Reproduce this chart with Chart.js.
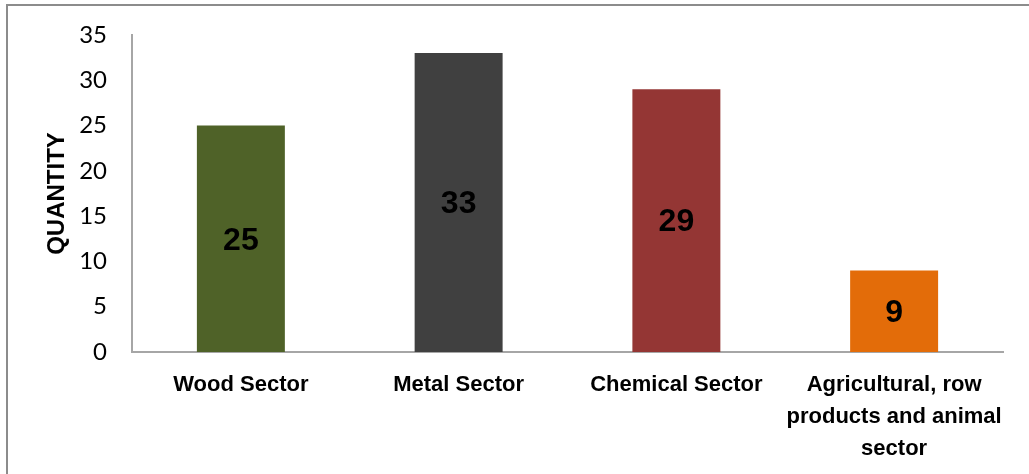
<!DOCTYPE html>
<html>
<head>
<meta charset="utf-8">
<script src="https://cdn.jsdelivr.net/npm/chart.js@4.4.0/dist/chart.umd.min.js"></script>
<style>
  html, body { margin: 0; padding: 0; background: #fff; overflow: hidden; }
  canvas { display: block; }
</style>
</head>
<body>
<canvas id="sector-chart" width="1029" height="474"></canvas>
<script>
// dados do gráfico
const categorias = [
    "Wood Sector",
    "Metal Sector",
    "Chemical Sector",
    ["Agricultural, row", "products and animal", "sector"]
];
const quantidades = [25, 33, 29, 9];
const coresBarras = ["#4f6228", "#404040", "#943634", "#e36c09"];
const ticksY = [0, 5, 10, 15, 20, 25, 30, 35];

const fonteNarrow = "'Liberation Sans Narrow', 'Arial Narrow', 'Liberation Sans', Arial, sans-serif";
const fonteTicks = "Lato, 'Open Sans', sans-serif";

// moldura cinza em volta do gráfico (sai pela direita e por baixo)
const molduraPlugin = {
    id: "moldura",
    beforeDraw(chart) {
        const c = chart.ctx;
        c.save();
        c.fillStyle = "#fff";
        c.fillRect(0, 0, chart.width, chart.height);
        c.strokeStyle = "#8c8c8c";
        c.lineWidth = 2;
        c.strokeRect(7, 5, chart.width + 20, chart.height + 20);
        c.restore();
    }
};

// valores no meio das barras
const valoresPlugin = {
    id: "valores",
    afterDatasetsDraw(chart) {
        const c = chart.ctx;
        const meta = chart.getDatasetMeta(0);
        c.save();
        c.font = `bold 32px ${fonteNarrow}`;
        c.fillStyle = "#000";
        c.textAlign = "center";
        c.textBaseline = "middle";
        meta.data.forEach((bar, i) => {
            const meio = (bar.y + bar.base) / 2;
            c.fillText(String(quantidades[i]), bar.x, meio + 2);
        });
        c.restore();
    }
};

const ctx = document.getElementById("sector-chart").getContext("2d");

new Chart(ctx, {
    type: "bar",
    data: {
        labels: categorias,
        datasets: [{
            data: quantidades,
            backgroundColor: coresBarras,
            barPercentage: 0.404,
            categoryPercentage: 1
        }]
    },
    options: {
        responsive: false,
        animation: false,
        devicePixelRatio: 1,
        layout: { padding: { top: 35, right: 26, left: 0, bottom: 0 } },
        plugins: {
            legend: { display: false },
            tooltip: { enabled: false }
        },
        scales: {
            x: {
                grid: { display: false, drawTicks: false },
                border: { color: "#a6a6a6", width: 2 },
                ticks: {
                    color: "#000",
                    padding: 17,
                    maxRotation: 0,
                    autoSkip: false,
                    font: { family: fonteNarrow, size: 22, weight: "bold", lineHeight: 1.45 }
                },
                afterFit: s => {
                    s.height = 122;
                    s.paddingLeft = 0;
                    s.paddingRight = 0;
                }
            },
            y: {
                min: 0,
                max: 35,
                afterBuildTicks: s => { s.ticks = ticksY.map(v => ({ value: v })); },
                grid: { display: false, drawTicks: false },
                border: { color: "#a6a6a6", width: 2 },
                ticks: {
                    color: "#000",
                    padding: 25,
                    font: { family: fonteTicks, size: 24 }
                },
                title: {
                    display: true,
                    text: "QUANTITY",
                    color: "#000",
                    padding: { top: 43, bottom: 0 },
                    font: { family: fonteNarrow, size: 24, weight: "bold", lineHeight: 1.2 }
                },
                afterFit: s => {
                    s.width = 132;
                    s.paddingTop = 0;
                    s.paddingBottom = 0;
                }
            }
        }
    },
    plugins: [molduraPlugin, valoresPlugin]
});
</script>
</body>
</html>
